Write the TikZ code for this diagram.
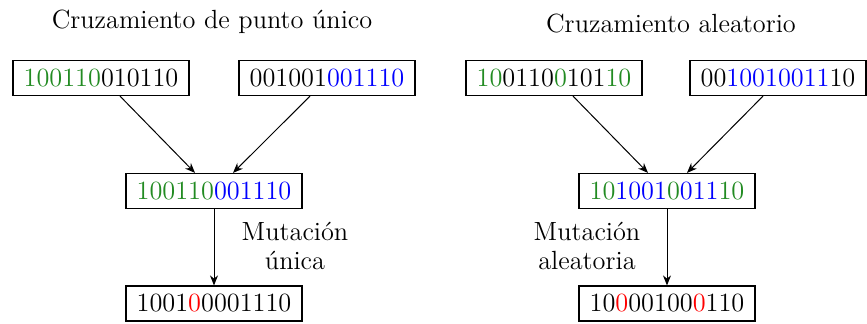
\documentclass[tikz,border=0pt]{standalone}
\usetikzlibrary{arrows.meta}
\definecolor{gr}{RGB}{34,139,34}
\newcommand{\G}[1]{\textcolor{gr}{#1}}
\newcommand{\B}[1]{\textcolor{blue}{#1}}
\newcommand{\R}[1]{\textcolor{red}{#1}}
\begin{document}
\begin{tikzpicture}[x=0.5pt,y=-0.5pt,
  every node/.style={font=\fontsize{13.15}{16}\selectfont},
  box/.style={draw,line width=0.6pt,minimum width=88pt,minimum height=17.5pt,inner sep=0pt},
  lbl/.style={align=center,inner sep=0pt},
  arr/.style={-{Stealth[length=5pt,width=4pt]},line width=0.5pt}]
\useasboundingbox (0,0) rectangle (867,323);
\node[lbl] (t1) at (212,22) {Cruzamiento de punto único};
\node[lbl] (t2) at (671,24) {Cruzamiento aleatorio};
% left
\node[box] (p1) at (101,78) {\G{100110}010110};
\node[box] (p2) at (327,78) {001001\B{001110}};
\node[box] (c1) at (214,191) {\G{100110}\B{001110}};
\node[box] (m1) at (214,303.5) {1001\R{0}0001110};
\node[lbl] (l1) at (295,246) {Mutación\\[-1.5pt]única};
\draw[arr] ([xshift=9.5pt]p1.south) -- ([xshift=-9.5pt]c1.north);
\draw[arr] ([xshift=-8.5pt]p2.south) -- ([xshift=9.5pt]c1.north);
\draw[arr] (c1) -- (m1);
% right
\node[box] (p3) at (554,78) {\G{10}0110\G{0}101\G{10}};
\node[box] (p4) at (778,78) {00\B{10010011}10};
\node[box] (c2) at (667,191) {\G{10}\B{1001}\G{0}\B{011}\G{10}};
\node[box] (m2) at (667,303.5) {10\R{0}00100\R{0}110};
\node[lbl] (l2) at (587,246) {Mutación\\[-1.5pt]aleatoria};
\draw[arr] ([xshift=9.5pt]p3.south) -- ([xshift=-9.5pt]c2.north);
\draw[arr] ([xshift=-7.5pt]p4.south) -- ([xshift=10pt]c2.north);
\draw[arr] (c2) -- (m2);
\end{tikzpicture}
\end{document}
